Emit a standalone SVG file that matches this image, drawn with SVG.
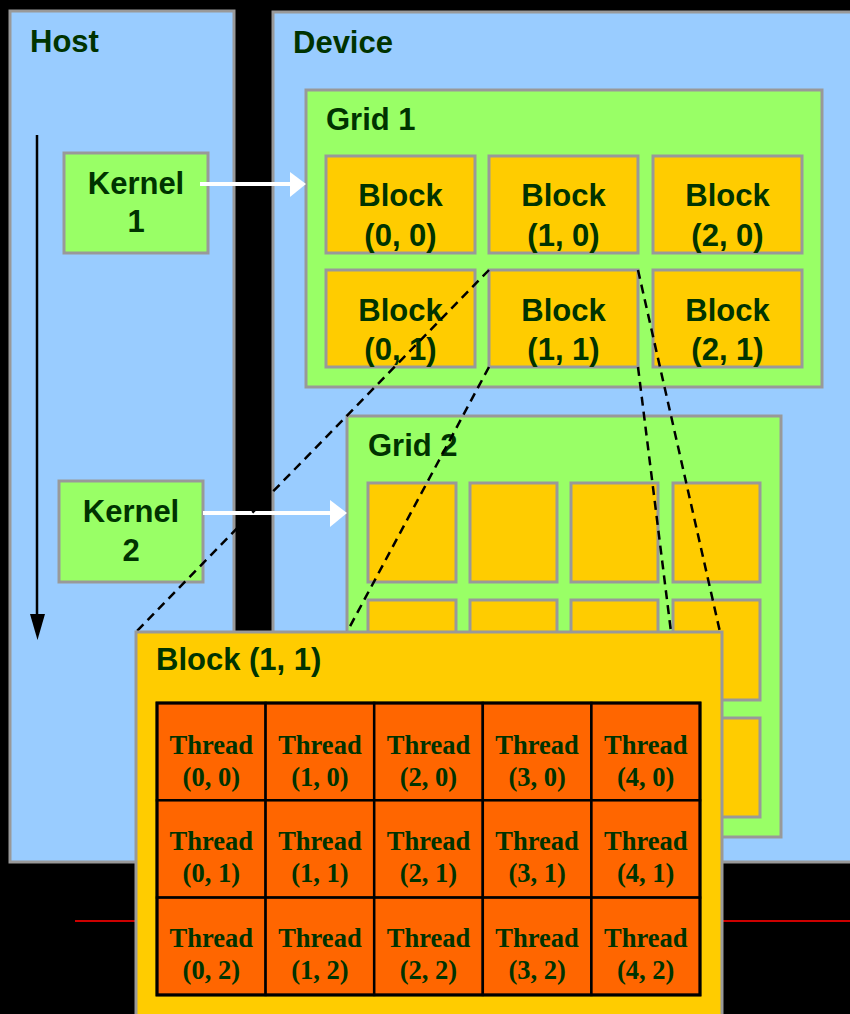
<svg xmlns="http://www.w3.org/2000/svg" width="850" height="1014" viewBox="0 0 850 1014">
<style>
.box{stroke:#999999;stroke-width:3}
.blue{fill:#99CCFF}
.green{fill:#99FF66}
.yellow{fill:#FFCC00}
.lbl{font-family:"Liberation Sans",Arial,sans-serif;font-weight:bold;font-size:31px;fill:#003300}
.blk{font-family:"Liberation Sans",Arial,sans-serif;font-weight:bold;font-size:31px;fill:#003300;text-anchor:middle}
.thr{font-family:"Liberation Serif","Times New Roman",serif;font-weight:bold;font-size:26.5px;fill:#003300;text-anchor:middle}
.cell{fill:#FF6600;stroke:#000000;stroke-width:2.5}
.dash{stroke:#000000;stroke-width:2.5;stroke-dasharray:9 6;fill:none}
</style>
<rect x="0" y="0" width="850" height="1014" fill="#000000"/>
<g id="host">
<rect class="box blue" x="10" y="11" width="224" height="851"/>
<text class="lbl" x="30" y="52">Host</text>
</g>
<g id="device">
<rect class="box blue" x="273" y="12" width="590" height="850"/>
<text class="lbl" x="293" y="53">Device</text>
</g>
<g id="grid1">
<rect class="box green" x="306" y="90" width="516" height="297"/>
<text class="lbl" x="326" y="130">Grid 1</text>
</g>
<g id="block-0-0"><rect class="box yellow" x="326" y="156" width="149" height="97"/><text class="blk" x="400.5" y="206">Block</text><text class="blk" x="400.5" y="246">(0, 0)</text></g>
<g id="block-1-0"><rect class="box yellow" x="489" y="156" width="149" height="97"/><text class="blk" x="563.5" y="206">Block</text><text class="blk" x="563.5" y="246">(1, 0)</text></g>
<g id="block-2-0"><rect class="box yellow" x="653" y="156" width="149" height="97"/><text class="blk" x="727.5" y="206">Block</text><text class="blk" x="727.5" y="246">(2, 0)</text></g>
<g id="block-0-1"><rect class="box yellow" x="326" y="270" width="149" height="97"/><text class="blk" x="400.5" y="321">Block</text><text class="blk" x="400.5" y="360">(0, 1)</text></g>
<g id="block-1-1"><rect class="box yellow" x="489" y="270" width="149" height="97"/><text class="blk" x="563.5" y="321">Block</text><text class="blk" x="563.5" y="360">(1, 1)</text></g>
<g id="block-2-1"><rect class="box yellow" x="653" y="270" width="149" height="97"/><text class="blk" x="727.5" y="321">Block</text><text class="blk" x="727.5" y="360">(2, 1)</text></g>
<g id="grid2">
<rect class="box green" x="347" y="416" width="434" height="421"/>
<text class="lbl" x="368" y="456">Grid 2</text>
<rect class="box yellow" x="368" y="483" width="88" height="99"/>
<rect class="box yellow" x="470" y="483" width="87" height="99"/>
<rect class="box yellow" x="571" y="483" width="87" height="99"/>
<rect class="box yellow" x="673" y="483" width="87" height="99"/>
<rect class="box yellow" x="368" y="600" width="88" height="100"/>
<rect class="box yellow" x="470" y="600" width="87" height="100"/>
<rect class="box yellow" x="571" y="600" width="87" height="100"/>
<rect class="box yellow" x="673" y="600" width="87" height="100"/>
<rect class="box yellow" x="368" y="718" width="88" height="99"/>
<rect class="box yellow" x="470" y="718" width="87" height="99"/>
<rect class="box yellow" x="571" y="718" width="87" height="99"/>
<rect class="box yellow" x="673" y="718" width="87" height="99"/>
</g>
<g id="kernel1">
<rect class="box green" x="64" y="153" width="144" height="100"/>
<text class="lbl" x="136" y="194" text-anchor="middle">Kernel</text>
<text class="lbl" x="136" y="232" text-anchor="middle">1</text>
</g>
<g id="kernel2">
<rect class="box green" x="59" y="481" width="144" height="101"/>
<text class="lbl" x="131" y="522" text-anchor="middle">Kernel</text>
<text class="lbl" x="131" y="561" text-anchor="middle">2</text>
</g>
<g id="connectors">
<line x1="37" y1="135" x2="37" y2="618" stroke="#000000" stroke-width="2.5"/>
<polygon points="30,614 45,614 37.5,640" fill="#000000"/>
<line x1="200" y1="184" x2="292" y2="184" stroke="#FFFFFF" stroke-width="4"/>
<polygon points="290,172 306,184 290,197" fill="#FFFFFF"/>
<line x1="203" y1="513" x2="332" y2="513" stroke="#FFFFFF" stroke-width="4"/>
<polygon points="330,500 347,513 330,527" fill="#FFFFFF"/>
<line class="dash" x1="489" y1="270" x2="136" y2="632"/>
<line class="dash" x1="489" y1="367" x2="347" y2="632"/>
<line class="dash" x1="638" y1="270" x2="720" y2="632"/>
<line class="dash" x1="638" y1="367" x2="671" y2="632"/>
<line x1="75" y1="921" x2="850" y2="921" stroke="#CC0000" stroke-width="2"/>
</g>
<g id="block-1-1-detail">
<rect class="box yellow" x="136" y="632" width="586" height="400"/>
<text class="lbl" x="156" y="670">Block (1, 1)</text>
</g>
<g id="threads">
<g id="t-0-0"><rect class="cell" x="157" y="703" width="108.6" height="97.3"/><text class="thr" x="211.3" y="754">Thread</text><text class="thr" x="211.3" y="786">(0, 0)</text></g>
<g id="t-1-0"><rect class="cell" x="265.6" y="703" width="108.6" height="97.3"/><text class="thr" x="319.9" y="754">Thread</text><text class="thr" x="319.9" y="786">(1, 0)</text></g>
<g id="t-2-0"><rect class="cell" x="374.2" y="703" width="108.6" height="97.3"/><text class="thr" x="428.5" y="754">Thread</text><text class="thr" x="428.5" y="786">(2, 0)</text></g>
<g id="t-3-0"><rect class="cell" x="482.8" y="703" width="108.6" height="97.3"/><text class="thr" x="537.1" y="754">Thread</text><text class="thr" x="537.1" y="786">(3, 0)</text></g>
<g id="t-4-0"><rect class="cell" x="591.4" y="703" width="108.6" height="97.3"/><text class="thr" x="645.7" y="754">Thread</text><text class="thr" x="645.7" y="786">(4, 0)</text></g>
<g id="t-0-1"><rect class="cell" x="157" y="800.3" width="108.6" height="97.3"/><text class="thr" x="211.3" y="850">Thread</text><text class="thr" x="211.3" y="882">(0, 1)</text></g>
<g id="t-1-1"><rect class="cell" x="265.6" y="800.3" width="108.6" height="97.3"/><text class="thr" x="319.9" y="850">Thread</text><text class="thr" x="319.9" y="882">(1, 1)</text></g>
<g id="t-2-1"><rect class="cell" x="374.2" y="800.3" width="108.6" height="97.3"/><text class="thr" x="428.5" y="850">Thread</text><text class="thr" x="428.5" y="882">(2, 1)</text></g>
<g id="t-3-1"><rect class="cell" x="482.8" y="800.3" width="108.6" height="97.3"/><text class="thr" x="537.1" y="850">Thread</text><text class="thr" x="537.1" y="882">(3, 1)</text></g>
<g id="t-4-1"><rect class="cell" x="591.4" y="800.3" width="108.6" height="97.3"/><text class="thr" x="645.7" y="850">Thread</text><text class="thr" x="645.7" y="882">(4, 1)</text></g>
<g id="t-0-2"><rect class="cell" x="157" y="897.6" width="108.6" height="97.3"/><text class="thr" x="211.3" y="947">Thread</text><text class="thr" x="211.3" y="979">(0, 2)</text></g>
<g id="t-1-2"><rect class="cell" x="265.6" y="897.6" width="108.6" height="97.3"/><text class="thr" x="319.9" y="947">Thread</text><text class="thr" x="319.9" y="979">(1, 2)</text></g>
<g id="t-2-2"><rect class="cell" x="374.2" y="897.6" width="108.6" height="97.3"/><text class="thr" x="428.5" y="947">Thread</text><text class="thr" x="428.5" y="979">(2, 2)</text></g>
<g id="t-3-2"><rect class="cell" x="482.8" y="897.6" width="108.6" height="97.3"/><text class="thr" x="537.1" y="947">Thread</text><text class="thr" x="537.1" y="979">(3, 2)</text></g>
<g id="t-4-2"><rect class="cell" x="591.4" y="897.6" width="108.6" height="97.3"/><text class="thr" x="645.7" y="947">Thread</text><text class="thr" x="645.7" y="979">(4, 2)</text></g>
<rect x="157" y="703" width="543" height="292" fill="none" stroke="#000000" stroke-width="3"/>
</g>
</svg>
